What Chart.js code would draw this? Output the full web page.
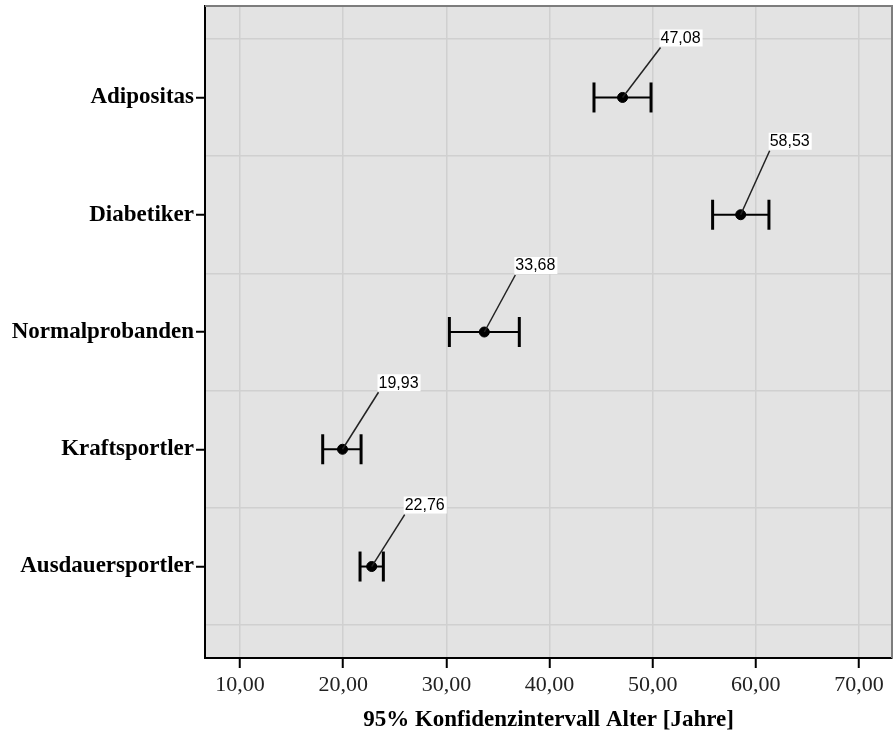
<!DOCTYPE html>
<html>
<head>
<meta charset="utf-8">
<script src="https://cdn.jsdelivr.net/npm/chart.js@4.4.1/dist/chart.umd.min.js"></script>
<style>
  html, body { margin: 0; padding: 0; background: #fff; }
</style>
</head>
<body>
<canvas id="ciChart" width="893" height="738"></canvas>
<script>
// group means with 95% confidence interval (age in years)
const categories = ["Adipositas", "Diabetiker", "Normalprobanden", "Kraftsportler", "Ausdauersportler"];
const means = [47.08, 58.53, 33.68, 19.93, 22.76];
const ciLower = [44.31, 55.81, 30.29, 18.01, 21.63];
const ciUpper = [49.84, 61.27, 37.07, 21.73, 23.89];
const xTicks = [10, 20, 30, 40, 50, 60, 70];

const fmt = v => v.toFixed(2).replace(".", ",");

// one small line dataset per group: the interval with its two caps
const errorSets = categories.map((c, i) => ({
    type: "scatter",
    label: c,
    data: [{ x: ciLower[i], y: i + 1 }, { x: ciUpper[i], y: i + 1 }],
    showLine: true,
    borderColor: "#000",
    borderWidth: 2,
    pointStyle: "line",
    pointRotation: 90,
    pointRadius: 15,
    pointBorderWidth: 3,
    pointBorderColor: "#000",
    order: 2
}));

const frame = {
    id: "frame",
    beforeDraw(chart) {
        const { ctx, chartArea: a } = chart;
        ctx.save();
        ctx.fillStyle = "#e3e3e3";
        ctx.fillRect(a.left, a.top, a.right - a.left, a.bottom - a.top);
        ctx.restore();
    },
    afterDraw(chart) {
        const { ctx, chartArea: a } = chart;
        ctx.save();
        ctx.strokeStyle = "#7d7d7d";
        ctx.lineWidth = 2;
        ctx.beginPath();
        ctx.moveTo(a.left, a.top);
        ctx.lineTo(a.right, a.top);
        ctx.lineTo(a.right, a.bottom);
        ctx.stroke();
        ctx.restore();
    }
};

const valueLabels = {
    id: "valueLabels",
    afterDatasetsDraw(chart, args, opts) {
        const { ctx } = chart;
        const pts = chart.getDatasetMeta(0).data;
        ctx.save();
        ctx.font = "16px 'Liberation Sans', Arial, sans-serif";
        ctx.textBaseline = "middle";
        pts.forEach((p, i) => {
            const [dx, dy] = opts.offsets[i];
            const ex = p.x + dx, ey = p.y + dy;
            ctx.strokeStyle = "#222";
            ctx.lineWidth = 1.5;
            ctx.beginPath();
            ctx.moveTo(p.x, p.y);
            ctx.lineTo(ex, ey);
            ctx.stroke();
            const txt = fmt(means[i]);
            const w = ctx.measureText(txt).width;
            ctx.fillStyle = "#fff";
            ctx.fillRect(ex - 1, ey - 18, w + 3, 17);
            ctx.fillStyle = "#000";
            ctx.fillText(txt, ex, ey - 9);
        });
        ctx.restore();
    }
};

new Chart(document.getElementById("ciChart"), {
    type: "scatter",
    data: {
        datasets: [{
            label: "Mittelwert",
            data: means.map((m, i) => ({ x: m, y: i + 1 })),
            pointRadius: 5,
            pointBorderWidth: 1,
            pointBackgroundColor: "#000",
            pointBorderColor: "#000",
            order: 1
        }, ...errorSets]
    },
    options: {
        responsive: false,
        animation: false,
        layout: { autoPadding: false, padding: { top: 6, right: 1 } },
        plugins: {
            legend: { display: false },
            tooltip: { enabled: false },
            valueLabels: { offsets: [[38, -50], [29, -64], [31, -57], [36, -57], [33, -52]] }
        },
        scales: {
            x: {
                type: "linear",
                min: 6.6,
                max: 73.2,
                afterBuildTicks: s => { s.ticks = xTicks.map(v => ({ value: v })); },
                afterFit: s => { s.height = 80; s.paddingLeft = 0; s.paddingRight = 0; },
                ticks: {
                    callback: v => fmt(v),
                    color: "#222",
                    padding: 4,
                    font: { family: "'Liberation Serif', 'Times New Roman', serif", size: 22 }
                },
                grid: { color: "#d0d0d0", lineWidth: 1.5, tickColor: "#000", tickLength: 10, tickWidth: 2 },
                border: { color: "#000", width: 2 },
                title: {
                    display: true,
                    text: "95% Konfidenzintervall Alter [Jahre]",
                    color: "#000",
                    padding: { top: 0, bottom: 4 },
                    font: { family: "'Liberation Serif', 'Times New Roman', serif", size: 23, weight: "bold" }
                }
            },
            y: {
                type: "linear",
                reverse: true,
                min: 0.22,
                max: 5.78,
                afterBuildTicks: s => { s.ticks = [0.5, 1, 1.5, 2, 2.5, 3, 3.5, 4, 4.5, 5, 5.5].map(v => ({ value: v })); },
                afterFit: s => { s.width = 205; s.paddingTop = 0; s.paddingBottom = 0; },
                ticks: {
                    autoSkip: false,
                    callback: v => Number.isInteger(v) ? categories[v - 1] : "",
                    color: "#000",
                    padding: 2,
                    font: { family: "'Liberation Serif', 'Times New Roman', serif", size: 23, weight: "bold" }
                },
                grid: {
                    color: c => Number.isInteger(c.tick.value) ? "rgba(0,0,0,0)" : "#d0d0d0",
                    tickColor: c => Number.isInteger(c.tick.value) ? "#000" : "rgba(0,0,0,0)",
                    lineWidth: 1.5,
                    tickLength: 9,
                    tickWidth: 2
                },
                border: { color: "#000", width: 2 }
            }
        }
    },
    plugins: [frame, valueLabels]
});
</script>
</body>
</html>
